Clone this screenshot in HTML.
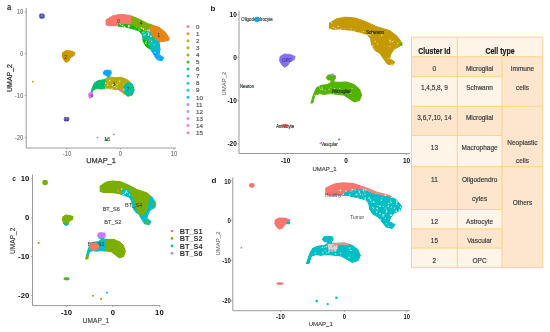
<!DOCTYPE html>
<html><head><meta charset="utf-8"><style>
html,body{margin:0;padding:0;background:#fff;}
body{width:550px;height:332px;overflow:hidden;font-family:"Liberation Sans",sans-serif;}
svg{display:block;filter:blur(0.3px);}
</style></head><body>
<svg width="550" height="332" viewBox="0 0 550 332">
<rect width="550" height="332" fill="#fff"/>
<defs>
<mask id="archa" maskUnits="userSpaceOnUse" x="0" y="0" width="550" height="332"><polygon points="105.9,19.8 112.5,15.7 119.9,14.2 129.2,15.1 138.5,18.8 147.8,23.6 159.1,27.2 165.5,32.4 169.3,38.2 168.3,42.3 162.8,45.4 159.9,50.5 159.1,54.7 163.7,57.7 161.8,60.8 157.2,59.7 154.4,55.7 150.6,49.5 146.0,46.4 143.1,41.2 142.3,35.1 139.4,31.0 132.9,29.0 125.5,26.9 116.1,25.9 108.7,25.9 105.9,24.9" fill="#fff" stroke="#fff" stroke-width="1.00" stroke-linejoin="round"/></mask>
<mask id="microa" maskUnits="userSpaceOnUse" x="0" y="0" width="550" height="332"><polygon points="103.1,72.9 104.5,70.6 107.7,70.1 110.9,70.8 111.3,73.3 109.8,75.2 109.8,77.2 114.5,77.5 121.1,77.1 127.8,79.7 132.4,84.1 134.4,89.9 132.4,95.1 127.8,96.6 123.8,93.7 118.5,89.9 113.2,89.3 106.4,88.5 101.1,89.3 97.2,88.5 93.1,89.9 91.7,94.3 91.3,97.4 89.5,97.8 90.0,95.9 92.0,88.5 94.5,82.7 98.5,80.5 103.8,79.7 107.1,77.7 107.4,75.4 104.5,75.1" fill="#fff" stroke="#fff" stroke-width="1.00" stroke-linejoin="round"/></mask>
<mask id="archb" maskUnits="userSpaceOnUse" x="0" y="0" width="550" height="332"><polygon points="329.5,22.9 336.9,18.7 345.3,17.2 355.8,18.1 366.4,21.9 376.9,26.8 389.6,30.5 396.9,35.9 401.2,41.9 400.0,46.1 393.8,49.3 390.6,54.5 389.6,58.8 394.8,61.9 392.7,65.1 387.5,64.0 384.3,59.8 380.0,53.5 374.8,50.3 371.6,45.0 370.6,38.7 367.4,34.5 360.0,32.4 351.6,30.3 341.0,29.2 332.6,29.2 329.5,28.2" fill="#fff" stroke="#fff" stroke-width="1.00" stroke-linejoin="round"/></mask>
<mask id="microb" maskUnits="userSpaceOnUse" x="0" y="0" width="550" height="332"><polygon points="326.3,77.6 327.9,75.2 331.5,74.7 335.1,75.4 335.6,78.0 333.9,79.9 333.9,82.0 339.2,82.3 346.7,81.9 354.2,84.6 359.5,89.1 361.7,95.1 359.5,100.4 354.2,101.9 349.7,98.9 343.7,95.1 337.7,94.4 330.1,93.6 324.1,94.4 319.6,93.6 315.0,95.1 313.5,99.6 313.0,102.7 310.9,103.2 311.5,101.2 313.8,93.6 316.6,87.6 321.1,85.3 327.1,84.6 330.9,82.5 331.2,80.2 327.9,79.8" fill="#fff" stroke="#fff" stroke-width="1.00" stroke-linejoin="round"/></mask>
<mask id="archc" maskUnits="userSpaceOnUse" x="0" y="0" width="550" height="332"><polygon points="100.3,186.3 106.0,182.5 112.4,181.2 120.5,182.0 128.7,185.4 136.8,189.9 146.5,193.2 152.1,198.0 155.4,203.4 154.5,207.2 149.7,210.1 147.3,214.8 146.5,218.7 150.5,221.5 148.9,224.4 144.9,223.4 142.4,219.6 139.1,213.9 135.1,211.0 132.7,206.2 131.9,200.6 129.5,196.8 123.7,194.9 117.3,193.0 109.1,192.0 102.7,192.0 100.3,191.1" fill="#fff" stroke="#fff" stroke-width="1.80" stroke-linejoin="round"/></mask>
<mask id="microc" maskUnits="userSpaceOnUse" x="0" y="0" width="550" height="332"><polygon points="97.9,235.6 99.0,233.5 101.8,233.0 104.6,233.7 105.0,236.0 103.7,237.8 103.7,239.6 107.8,239.9 113.6,239.5 119.3,242.0 123.4,246.0 125.1,251.4 123.4,256.3 119.3,257.6 115.8,254.9 111.2,251.4 106.6,250.8 100.8,250.1 96.2,250.8 92.7,250.1 89.2,251.4 88.0,255.5 87.7,258.3 86.0,258.7 86.5,257.0 88.3,250.1 90.4,244.7 93.8,242.6 98.5,242.0 101.4,240.1 101.6,238.0 99.0,237.7" fill="#fff" stroke="#fff" stroke-width="1.80" stroke-linejoin="round"/></mask>
<mask id="archd" maskUnits="userSpaceOnUse" x="0" y="0" width="550" height="332"><polygon points="326.3,188.6 334.1,184.7 342.7,183.3 353.7,184.2 364.7,187.7 375.7,192.3 388.9,195.7 396.5,200.7 401.0,206.2 399.8,210.1 393.3,213.1 389.9,217.9 388.9,221.9 394.3,224.8 392.1,227.8 386.7,226.7 383.4,222.9 378.9,217.0 373.5,214.1 370.1,209.1 369.1,203.3 365.8,199.4 358.1,197.4 349.4,195.5 338.3,194.5 329.6,194.5 326.3,193.5" fill="#fff" stroke="#fff" stroke-width="2.20" stroke-linejoin="round"/></mask>
<mask id="microd" maskUnits="userSpaceOnUse" x="0" y="0" width="550" height="332"><polygon points="323.0,239.4 324.6,237.2 328.4,236.6 332.2,237.4 332.7,239.8 330.9,241.5 330.9,243.4 336.4,243.7 344.3,243.3 352.1,245.9 357.5,250.0 359.9,255.6 357.5,260.5 352.1,261.9 347.3,259.1 341.1,255.6 334.9,255.0 326.9,254.2 320.7,255.0 316.0,254.2 311.2,255.6 309.6,259.8 309.2,262.7 307.0,263.1 307.6,261.3 310.0,254.2 312.9,248.7 317.5,246.5 323.8,245.9 327.8,243.9 328.1,241.7 324.6,241.4" fill="#fff" stroke="#fff" stroke-width="2.20" stroke-linejoin="round"/></mask>
</defs>
<text x="0.0" y="0.0" font-size="7.6" font-weight="bold" fill="#222" text-anchor="middle" font-family="Liberation Sans, sans-serif" transform="translate(9.2,9.6) scale(1,1.15)">a</text>
<line x1="26.2" y1="8.0" x2="26.2" y2="148.0" stroke="#9a9a9a" stroke-width="1"/>
<line x1="26.2" y1="148.0" x2="176.0" y2="148.0" stroke="#9a9a9a" stroke-width="1"/>
<line x1="24.6" y1="11.8" x2="26.2" y2="11.8" stroke="#9a9a9a" stroke-width="0.8"/>
<text font-size="5.9" font-weight="normal" fill="#555" text-anchor="end" font-family="Liberation Sans, sans-serif" transform="translate(23.20,14.25) scale(1,1.16)">10</text>
<line x1="24.6" y1="53.7" x2="26.2" y2="53.7" stroke="#9a9a9a" stroke-width="0.8"/>
<text font-size="5.9" font-weight="normal" fill="#555" text-anchor="end" font-family="Liberation Sans, sans-serif" transform="translate(23.20,56.15) scale(1,1.16)">0</text>
<line x1="24.6" y1="95.4" x2="26.2" y2="95.4" stroke="#9a9a9a" stroke-width="0.8"/>
<text font-size="5.9" font-weight="normal" fill="#555" text-anchor="end" font-family="Liberation Sans, sans-serif" transform="translate(23.20,97.85) scale(1,1.16)">-10</text>
<line x1="24.6" y1="137.3" x2="26.2" y2="137.3" stroke="#9a9a9a" stroke-width="0.8"/>
<text font-size="5.9" font-weight="normal" fill="#555" text-anchor="end" font-family="Liberation Sans, sans-serif" transform="translate(23.20,139.75) scale(1,1.16)">-20</text>
<line x1="67.0" y1="148.0" x2="67.0" y2="149.6" stroke="#9a9a9a" stroke-width="0.8"/>
<text font-size="5.9" font-weight="normal" fill="#555" text-anchor="middle" font-family="Liberation Sans, sans-serif" transform="translate(67.00,156.45) scale(1,1.16)">-10</text>
<line x1="120.5" y1="148.0" x2="120.5" y2="149.6" stroke="#9a9a9a" stroke-width="0.8"/>
<text font-size="5.9" font-weight="normal" fill="#555" text-anchor="middle" font-family="Liberation Sans, sans-serif" transform="translate(120.50,156.45) scale(1,1.16)">0</text>
<line x1="174.0" y1="148.0" x2="174.0" y2="149.6" stroke="#9a9a9a" stroke-width="0.8"/>
<text font-size="5.9" font-weight="normal" fill="#555" text-anchor="middle" font-family="Liberation Sans, sans-serif" transform="translate(174.00,156.45) scale(1,1.16)">10</text>
<text x="101.0" y="163.2" font-size="7.4" font-weight="normal" fill="#3a3a3a" text-anchor="middle" font-family="Liberation Sans, sans-serif" stroke="#3a3a3a" stroke-width="0.25">UMAP_1</text>
<text x="0.0" y="0.0" font-size="7" font-weight="normal" fill="#3a3a3a" text-anchor="middle" font-family="Liberation Sans, sans-serif" stroke="#3a3a3a" stroke-width="0.25" transform="translate(12.2,78) rotate(-90)">UMAP_2</text>
<g mask="url(#archa)">
<polygon points="105.9,19.8 112.5,15.7 119.9,14.2 129.2,15.1 138.5,18.8 147.8,23.6 159.1,27.2 165.5,32.4 169.3,38.2 168.3,42.3 162.8,45.4 159.9,50.5 159.1,54.7 163.7,57.7 161.8,60.8 157.2,59.7 154.4,55.7 150.6,49.5 146.0,46.4 143.1,41.2 142.3,35.1 139.4,31.0 132.9,29.0 125.5,26.9 116.1,25.9 108.7,25.9 105.9,24.9" fill="#F8766D" stroke="#F8766D" stroke-width="1.00" stroke-linejoin="round"/>
<polygon points="118,23.8 131,24.5 137,26.8 145,30.8 141.5,35 118,35" fill="#0CB702"/>
<polygon points="130.4,8 165,8 165,24 150,26 150.9,33.4 144.9,30.9 136,26.9 131.5,25" fill="#7CAE00"/>
<polygon points="149.9,26.9 155.8,25.5 178,34 178,46 165.7,41.3 159.8,41.8 155.3,38.8 152.2,36 150.9,33.4 149.9,29.9" fill="#E68613"/>
<polygon points="143.9,30.9 149.9,29.9 150.9,33.4 152.2,36 155.3,38.8 154.5,40 148,40.5 142.5,39.5 141,34" fill="#00C19A"/>
<polygon points="138,38 148,40.5 152.2,42 151,52 138,52" fill="#0CB702"/>
<polygon points="148,41.5 155.3,39.5 159.8,41.8 161,51.2 151,51.2" fill="#00BFC4"/>
<polygon points="150,50.5 162,50.5 170,66 150,66" fill="#00A9FF"/>
<g mask="url(#archa)" fill="#ffffff" fill-opacity="0.9"><circle cx="128.4" cy="25.6" r="0.63"/><circle cx="148.3" cy="32.8" r="0.54"/><circle cx="122.6" cy="25.0" r="0.51"/><circle cx="120.0" cy="24.0" r="0.47"/><circle cx="139.8" cy="30.3" r="0.51"/><circle cx="136.7" cy="30.7" r="0.50"/><circle cx="143.4" cy="34.9" r="0.49"/><circle cx="136.4" cy="31.9" r="0.71"/><circle cx="141.3" cy="27.9" r="0.74"/><circle cx="137.0" cy="32.9" r="0.56"/><circle cx="123.4" cy="25.0" r="0.42"/><circle cx="125.9" cy="29.6" r="0.70"/><circle cx="126.9" cy="30.1" r="0.53"/><circle cx="122.8" cy="26.0" r="0.48"/><circle cx="136.9" cy="27.5" r="0.40"/><circle cx="131.4" cy="29.3" r="0.60"/><circle cx="148.5" cy="34.7" r="0.58"/><circle cx="143.5" cy="29.7" r="0.54"/><circle cx="120.0" cy="24.1" r="0.47"/><circle cx="123.2" cy="28.8" r="0.42"/><circle cx="118.0" cy="25.6" r="0.44"/><circle cx="146.0" cy="33.4" r="0.45"/><circle cx="126.1" cy="28.9" r="0.53"/><circle cx="149.8" cy="30.9" r="0.57"/><circle cx="120.7" cy="24.7" r="0.52"/><circle cx="148.4" cy="32.0" r="0.45"/><circle cx="145.6" cy="34.8" r="0.49"/><circle cx="129.7" cy="25.8" r="0.67"/><circle cx="128.5" cy="26.8" r="0.68"/><circle cx="134.6" cy="29.0" r="0.41"/><circle cx="118.9" cy="27.8" r="0.49"/><circle cx="129.7" cy="26.7" r="0.48"/><circle cx="124.3" cy="26.5" r="0.62"/><circle cx="143.3" cy="28.7" r="0.68"/><circle cx="149.1" cy="29.7" r="0.54"/><circle cx="148.3" cy="35.3" r="0.46"/><circle cx="122.1" cy="25.6" r="0.72"/><circle cx="139.0" cy="29.0" r="0.59"/><circle cx="149.1" cy="34.0" r="0.58"/><circle cx="147.9" cy="30.4" r="0.71"/></g>
<g mask="url(#archa)" fill="#ffffff" fill-opacity="0.8"><circle cx="145.0" cy="60.8" r="0.44"/><circle cx="145.4" cy="62.0" r="0.46"/><circle cx="154.1" cy="44.7" r="0.54"/><circle cx="150.9" cy="36.2" r="0.65"/><circle cx="142.0" cy="37.5" r="0.41"/><circle cx="145.9" cy="43.0" r="0.67"/><circle cx="148.3" cy="33.6" r="0.48"/><circle cx="154.3" cy="58.8" r="0.57"/><circle cx="143.1" cy="32.1" r="0.68"/><circle cx="150.8" cy="36.2" r="0.68"/><circle cx="152.7" cy="53.3" r="0.66"/><circle cx="146.3" cy="41.4" r="0.66"/><circle cx="143.0" cy="54.5" r="0.43"/><circle cx="155.2" cy="52.5" r="0.68"/><circle cx="144.3" cy="34.8" r="0.56"/><circle cx="145.4" cy="30.4" r="0.50"/><circle cx="145.9" cy="43.5" r="0.51"/><circle cx="158.4" cy="58.5" r="0.45"/><circle cx="148.7" cy="35.3" r="0.60"/><circle cx="140.3" cy="54.5" r="0.50"/><circle cx="143.7" cy="43.9" r="0.47"/><circle cx="149.0" cy="44.3" r="0.53"/><circle cx="142.1" cy="32.7" r="0.43"/><circle cx="151.5" cy="41.5" r="0.64"/><circle cx="151.1" cy="52.7" r="0.69"/></g>
</g>
<polygon points="159.6,42.4 166,41.6 171,40.2 171,50 160.8,50" fill="#ffffff"/>
<g mask="url(#microa)">
<polygon points="103.1,72.9 104.5,70.6 107.7,70.1 110.9,70.8 111.3,73.3 109.8,75.2 109.8,77.2 114.5,77.5 121.1,77.1 127.8,79.7 132.4,84.1 134.4,89.9 132.4,95.1 127.8,96.6 123.8,93.7 118.5,89.9 113.2,89.3 106.4,88.5 101.1,89.3 97.2,88.5 93.1,89.9 91.7,94.3 91.3,97.4 89.5,97.8 90.0,95.9 92.0,88.5 94.5,82.7 98.5,80.5 103.8,79.7 107.1,77.7 107.4,75.4 104.5,75.1" fill="#B5AA08" stroke="#B5AA08" stroke-width="1.00" stroke-linejoin="round"/>
<polygon points="80,76.5 105.3,79 105.3,89 96,89 80,89" fill="#00BE67"/>
<polygon points="85,89 96,89 92,100 85,100" fill="#00BE67"/>
<ellipse cx="128.9" cy="89.2" rx="5.6" ry="7" fill="#00C19A"/>
<g mask="url(#microa)" fill="#ffffff" fill-opacity="0.85"><circle cx="113.0" cy="85.6" r="0.77"/><circle cx="113.3" cy="85.1" r="0.63"/><circle cx="107.7" cy="85.1" r="0.65"/><circle cx="119.9" cy="80.9" r="0.52"/><circle cx="105.8" cy="88.1" r="0.68"/><circle cx="104.8" cy="89.8" r="0.79"/><circle cx="117.1" cy="86.2" r="0.46"/><circle cx="104.3" cy="85.3" r="0.42"/><circle cx="107.8" cy="82.4" r="0.41"/><circle cx="113.3" cy="84.4" r="0.74"/><circle cx="114.4" cy="86.4" r="0.60"/><circle cx="117.2" cy="84.6" r="0.51"/><circle cx="124.0" cy="90.0" r="0.74"/><circle cx="118.2" cy="83.2" r="0.49"/><circle cx="109.8" cy="80.7" r="0.71"/><circle cx="112.0" cy="88.5" r="0.55"/><circle cx="123.2" cy="88.5" r="0.40"/><circle cx="108.2" cy="89.1" r="0.59"/><circle cx="123.6" cy="84.0" r="0.43"/><circle cx="116.6" cy="87.8" r="0.51"/><circle cx="105.7" cy="83.3" r="0.79"/><circle cx="119.2" cy="81.2" r="0.50"/></g>
<rect x="80" y="91.8" width="13.6" height="10" fill="#ED68ED"/>
<rect x="98" y="60" width="16" height="17.2" fill="#00A9FF"/>
</g>
<circle cx="121.0" cy="90.0" r="1.30" fill="#ED68ED"/>
<ellipse cx="90.6" cy="94.9" rx="2.4" ry="2.6" fill="#ED68ED"/>
<ellipse cx="92" cy="95.6" rx="1.3" ry="1.6" fill="#5A6FE0"/>
<polygon points="62.2,52.4 65.9,49.9 71.3,50.4 75.6,52.4 74.5,55.8 70.7,57.9 69.1,61.2 65.9,62.9 63.3,60.0 61.7,56.2" fill="#CD9600"/>
<ellipse cx="41.9" cy="16.1" rx="3.1" ry="2.8" fill="#7478E8" />
<ellipse cx="66.5" cy="119.3" rx="2.8" ry="2.3" fill="#7D66E4" />
<circle cx="32.8" cy="81.7" r="0.90" fill="#CD9600"/>
<circle cx="97.5" cy="137.6" r="0.90" fill="#FF68A1"/>
<circle cx="113.8" cy="134.4" r="0.90" fill="#FF68A1"/>
<ellipse cx="106.7" cy="139.8" rx="1.3" ry="1.3" fill="#0CB702" />
<text x="118.6" y="23.0" font-size="4.6" font-weight="normal" fill="#2a2a2a" text-anchor="middle" font-family="Liberation Sans, sans-serif" >0</text>
<text x="141.0" y="25.0" font-size="4.6" font-weight="normal" fill="#2a2a2a" text-anchor="middle" font-family="Liberation Sans, sans-serif" >4</text>
<text x="158.7" y="37.0" font-size="4.6" font-weight="normal" fill="#2a2a2a" text-anchor="middle" font-family="Liberation Sans, sans-serif" >1</text>
<text x="65.5" y="59.3" font-size="4.6" font-weight="normal" fill="#2a2a2a" text-anchor="middle" font-family="Liberation Sans, sans-serif" >2</text>
<text x="42.0" y="17.8" font-size="4.8" font-weight="normal" fill="#2a2a2a" text-anchor="middle" font-family="Liberation Sans, sans-serif" >11</text>
<text x="66.5" y="121.4" font-size="4.8" font-weight="normal" fill="#2a2a2a" text-anchor="middle" font-family="Liberation Sans, sans-serif" >12</text>
<text x="107.2" y="140.6" font-size="5.6" font-weight="normal" fill="#2a2a2a" text-anchor="middle" font-family="Liberation Sans, sans-serif" >15</text>
<text x="128.0" y="90.5" font-size="4.6" font-weight="normal" fill="#2a2a2a" text-anchor="middle" font-family="Liberation Sans, sans-serif" >7</text>
<text x="114.0" y="85.5" font-size="4.6" font-weight="normal" fill="#2a2a2a" text-anchor="middle" font-family="Liberation Sans, sans-serif" >3</text>
<circle cx="188" cy="26.6" r="1.5" fill="#F8766D" fill-opacity="0.85"/>
<text x="196.0" y="28.8" font-size="6.2" font-weight="normal" fill="#595959" text-anchor="start" font-family="Liberation Sans, sans-serif" stroke="#595959" stroke-width="0.2">0</text>
<circle cx="188" cy="33.7" r="1.5" fill="#E68613" fill-opacity="0.85"/>
<text x="196.0" y="35.9" font-size="6.2" font-weight="normal" fill="#595959" text-anchor="start" font-family="Liberation Sans, sans-serif" stroke="#595959" stroke-width="0.2">1</text>
<circle cx="188" cy="40.7" r="1.5" fill="#CD9600" fill-opacity="0.85"/>
<text x="196.0" y="42.9" font-size="6.2" font-weight="normal" fill="#595959" text-anchor="start" font-family="Liberation Sans, sans-serif" stroke="#595959" stroke-width="0.2">2</text>
<circle cx="188" cy="47.8" r="1.5" fill="#ABA300" fill-opacity="0.85"/>
<text x="196.0" y="50.0" font-size="6.2" font-weight="normal" fill="#595959" text-anchor="start" font-family="Liberation Sans, sans-serif" stroke="#595959" stroke-width="0.2">3</text>
<circle cx="188" cy="54.9" r="1.5" fill="#7CAE00" fill-opacity="0.85"/>
<text x="196.0" y="57.1" font-size="6.2" font-weight="normal" fill="#595959" text-anchor="start" font-family="Liberation Sans, sans-serif" stroke="#595959" stroke-width="0.2">4</text>
<circle cx="188" cy="62.0" r="1.5" fill="#0CB702" fill-opacity="0.85"/>
<text x="196.0" y="64.2" font-size="6.2" font-weight="normal" fill="#595959" text-anchor="start" font-family="Liberation Sans, sans-serif" stroke="#595959" stroke-width="0.2">5</text>
<circle cx="188" cy="69.0" r="1.5" fill="#00BE67" fill-opacity="0.85"/>
<text x="196.0" y="71.2" font-size="6.2" font-weight="normal" fill="#595959" text-anchor="start" font-family="Liberation Sans, sans-serif" stroke="#595959" stroke-width="0.2">6</text>
<circle cx="188" cy="76.1" r="1.5" fill="#00C19A" fill-opacity="0.85"/>
<text x="196.0" y="78.3" font-size="6.2" font-weight="normal" fill="#595959" text-anchor="start" font-family="Liberation Sans, sans-serif" stroke="#595959" stroke-width="0.2">7</text>
<circle cx="188" cy="83.2" r="1.5" fill="#00BFC4" fill-opacity="0.85"/>
<text x="196.0" y="85.4" font-size="6.2" font-weight="normal" fill="#595959" text-anchor="start" font-family="Liberation Sans, sans-serif" stroke="#595959" stroke-width="0.2">8</text>
<circle cx="188" cy="90.2" r="1.5" fill="#00B8E7" fill-opacity="0.85"/>
<text x="196.0" y="92.4" font-size="6.2" font-weight="normal" fill="#595959" text-anchor="start" font-family="Liberation Sans, sans-serif" stroke="#595959" stroke-width="0.2">9</text>
<circle cx="188" cy="97.3" r="1.5" fill="#00A9FF" fill-opacity="0.85"/>
<text x="196.0" y="99.5" font-size="6.2" font-weight="normal" fill="#595959" text-anchor="start" font-family="Liberation Sans, sans-serif" stroke="#595959" stroke-width="0.2">10</text>
<circle cx="188" cy="104.4" r="1.5" fill="#8494FF" fill-opacity="0.85"/>
<text x="196.0" y="106.6" font-size="6.2" font-weight="normal" fill="#595959" text-anchor="start" font-family="Liberation Sans, sans-serif" stroke="#595959" stroke-width="0.2">11</text>
<circle cx="188" cy="111.4" r="1.5" fill="#C77CFF" fill-opacity="0.85"/>
<text x="196.0" y="113.6" font-size="6.2" font-weight="normal" fill="#595959" text-anchor="start" font-family="Liberation Sans, sans-serif" stroke="#595959" stroke-width="0.2">12</text>
<circle cx="188" cy="118.5" r="1.5" fill="#ED68ED" fill-opacity="0.85"/>
<text x="196.0" y="120.7" font-size="6.2" font-weight="normal" fill="#595959" text-anchor="start" font-family="Liberation Sans, sans-serif" stroke="#595959" stroke-width="0.2">13</text>
<circle cx="188" cy="125.6" r="1.5" fill="#FF61CC" fill-opacity="0.85"/>
<text x="196.0" y="127.8" font-size="6.2" font-weight="normal" fill="#595959" text-anchor="start" font-family="Liberation Sans, sans-serif" stroke="#595959" stroke-width="0.2">14</text>
<circle cx="188" cy="132.7" r="1.5" fill="#FF68A1" fill-opacity="0.85"/>
<text x="196.0" y="134.8" font-size="6.2" font-weight="normal" fill="#595959" text-anchor="start" font-family="Liberation Sans, sans-serif" stroke="#595959" stroke-width="0.2">15</text>
<text x="213.0" y="11.3" font-size="8" font-weight="bold" fill="#222" text-anchor="middle" font-family="Liberation Sans, sans-serif" >b</text>
<line x1="239.0" y1="10.5" x2="239.0" y2="153.5" stroke="#9a9a9a" stroke-width="1"/>
<line x1="239.0" y1="153.5" x2="409.8" y2="153.5" stroke="#9a9a9a" stroke-width="1"/>
<line x1="237.4" y1="14.6" x2="239.0" y2="14.6" stroke="#9a9a9a" stroke-width="0.8"/>
<text font-size="6.5" font-weight="bold" fill="#111" text-anchor="end" font-family="Liberation Sans, sans-serif" transform="translate(236.80,17.28) scale(1,1.15)">10</text>
<line x1="237.4" y1="57.6" x2="239.0" y2="57.6" stroke="#9a9a9a" stroke-width="0.8"/>
<text font-size="6.5" font-weight="bold" fill="#111" text-anchor="end" font-family="Liberation Sans, sans-serif" transform="translate(236.80,60.28) scale(1,1.15)">0</text>
<line x1="237.4" y1="100.6" x2="239.0" y2="100.6" stroke="#9a9a9a" stroke-width="0.8"/>
<text font-size="6.5" font-weight="bold" fill="#111" text-anchor="end" font-family="Liberation Sans, sans-serif" transform="translate(236.80,103.28) scale(1,1.15)">-10</text>
<line x1="237.4" y1="143.8" x2="239.0" y2="143.8" stroke="#9a9a9a" stroke-width="0.8"/>
<text font-size="6.5" font-weight="bold" fill="#111" text-anchor="end" font-family="Liberation Sans, sans-serif" transform="translate(236.80,146.48) scale(1,1.15)">-20</text>
<line x1="285.6" y1="153.5" x2="285.6" y2="155.1" stroke="#9a9a9a" stroke-width="0.8"/>
<text font-size="6.5" font-weight="bold" fill="#111" text-anchor="middle" font-family="Liberation Sans, sans-serif" transform="translate(285.60,162.88) scale(1,1.15)">-10</text>
<line x1="346.0" y1="153.5" x2="346.0" y2="155.1" stroke="#9a9a9a" stroke-width="0.8"/>
<text font-size="6.5" font-weight="bold" fill="#111" text-anchor="middle" font-family="Liberation Sans, sans-serif" transform="translate(346.00,162.88) scale(1,1.15)">0</text>
<line x1="406.5" y1="153.5" x2="406.5" y2="155.1" stroke="#9a9a9a" stroke-width="0.8"/>
<text font-size="6.5" font-weight="bold" fill="#111" text-anchor="middle" font-family="Liberation Sans, sans-serif" transform="translate(406.50,162.88) scale(1,1.15)">10</text>
<text x="324.5" y="170.5" font-size="6" font-weight="normal" fill="#444" text-anchor="middle" font-family="Liberation Sans, sans-serif" stroke="#444" stroke-width="0.15">UMAP_1</text>
<text x="0.0" y="0.0" font-size="6" font-weight="normal" fill="#555" text-anchor="middle" font-family="Liberation Sans, sans-serif" transform="translate(225.8,83.6) rotate(-90)">UMAP_2</text>
<polygon points="329.5,22.9 336.9,18.7 345.3,17.2 355.8,18.1 366.4,21.9 376.9,26.8 389.6,30.5 396.9,35.9 401.2,41.9 400.0,46.1 393.8,49.3 390.6,54.5 389.6,58.8 394.8,61.9 392.7,65.1 387.5,64.0 384.3,59.8 380.0,53.5 374.8,50.3 371.6,45.0 370.6,38.7 367.4,34.5 360.0,32.4 351.6,30.3 341.0,29.2 332.6,29.2 329.5,28.2" fill="#C49A00" stroke="#C49A00" stroke-width="1.00" stroke-linejoin="round"/>
<g mask="url(#archb)" fill="#F5E6B0" fill-opacity="0.9"><circle cx="347.1" cy="45.0" r="0.60"/><circle cx="373.5" cy="48.8" r="0.48"/><circle cx="330.9" cy="58.5" r="0.55"/><circle cx="346.9" cy="65.8" r="0.64"/><circle cx="390.2" cy="41.9" r="0.71"/><circle cx="340.8" cy="49.2" r="0.80"/><circle cx="367.7" cy="54.1" r="0.72"/><circle cx="334.6" cy="54.9" r="0.69"/><circle cx="392.3" cy="41.7" r="0.74"/><circle cx="393.3" cy="52.8" r="0.82"/><circle cx="358.4" cy="56.8" r="0.63"/><circle cx="397.4" cy="60.4" r="0.49"/><circle cx="339.8" cy="30.0" r="0.84"/><circle cx="361.4" cy="48.8" r="0.57"/><circle cx="366.5" cy="37.7" r="0.59"/><circle cx="372.1" cy="46.9" r="0.81"/><circle cx="379.1" cy="62.7" r="0.79"/><circle cx="401.4" cy="50.9" r="0.52"/><circle cx="392.0" cy="64.4" r="0.81"/><circle cx="371.0" cy="52.8" r="0.53"/><circle cx="389.9" cy="46.4" r="0.56"/><circle cx="334.6" cy="59.3" r="0.85"/><circle cx="336.4" cy="56.8" r="0.61"/><circle cx="340.9" cy="33.5" r="0.76"/><circle cx="381.7" cy="35.2" r="0.80"/><circle cx="400.6" cy="43.2" r="0.85"/><circle cx="344.2" cy="38.8" r="0.69"/><circle cx="399.0" cy="61.2" r="0.60"/><circle cx="363.1" cy="43.9" r="0.71"/><circle cx="372.9" cy="45.7" r="0.70"/><circle cx="397.7" cy="43.3" r="0.62"/><circle cx="351.7" cy="65.0" r="0.66"/><circle cx="359.9" cy="46.7" r="0.46"/><circle cx="374.3" cy="49.1" r="0.47"/><circle cx="375.2" cy="41.4" r="0.72"/><circle cx="355.4" cy="52.5" r="0.75"/><circle cx="331.6" cy="22.8" r="0.72"/><circle cx="362.9" cy="47.3" r="0.58"/><circle cx="356.2" cy="34.4" r="0.60"/><circle cx="372.9" cy="33.8" r="0.60"/><circle cx="371.0" cy="53.8" r="0.57"/><circle cx="346.0" cy="57.0" r="0.55"/><circle cx="343.5" cy="40.0" r="0.73"/><circle cx="337.3" cy="34.8" r="0.58"/><circle cx="390.0" cy="40.2" r="0.79"/><circle cx="342.2" cy="35.5" r="0.71"/><circle cx="393.7" cy="40.8" r="0.54"/><circle cx="338.7" cy="44.4" r="0.53"/><circle cx="388.1" cy="58.6" r="0.52"/><circle cx="350.1" cy="57.1" r="0.71"/><circle cx="339.3" cy="33.4" r="0.77"/><circle cx="349.5" cy="35.9" r="0.62"/><circle cx="360.2" cy="38.8" r="0.82"/><circle cx="397.9" cy="60.5" r="0.84"/><circle cx="361.3" cy="63.7" r="0.82"/><circle cx="346.0" cy="54.3" r="0.78"/><circle cx="377.7" cy="43.9" r="0.57"/><circle cx="354.6" cy="30.5" r="0.48"/><circle cx="372.4" cy="33.2" r="0.77"/><circle cx="333.2" cy="61.6" r="0.73"/><circle cx="396.5" cy="61.2" r="0.81"/><circle cx="351.6" cy="50.5" r="0.66"/><circle cx="359.8" cy="63.2" r="0.69"/><circle cx="354.6" cy="31.6" r="0.79"/><circle cx="364.4" cy="56.0" r="0.59"/><circle cx="344.2" cy="44.6" r="0.78"/><circle cx="342.3" cy="56.4" r="0.82"/><circle cx="388.0" cy="57.9" r="0.45"/><circle cx="375.3" cy="59.7" r="0.47"/><circle cx="349.5" cy="32.4" r="0.66"/></g>
<g mask="url(#archb)" fill="#F5E6B0" fill-opacity="0.9"><circle cx="359.4" cy="33.0" r="0.66"/><circle cx="361.6" cy="33.2" r="0.62"/><circle cx="336.9" cy="32.2" r="0.75"/><circle cx="348.4" cy="31.2" r="0.57"/><circle cx="368.7" cy="33.7" r="0.77"/><circle cx="354.3" cy="32.2" r="0.77"/><circle cx="350.7" cy="28.7" r="0.50"/><circle cx="351.7" cy="29.0" r="0.60"/><circle cx="368.0" cy="34.1" r="0.81"/><circle cx="348.7" cy="32.3" r="0.63"/><circle cx="344.7" cy="31.5" r="0.47"/><circle cx="341.2" cy="31.6" r="0.75"/><circle cx="352.7" cy="31.2" r="0.46"/><circle cx="344.1" cy="28.5" r="0.49"/><circle cx="357.2" cy="34.3" r="0.72"/><circle cx="335.7" cy="31.1" r="0.70"/><circle cx="333.3" cy="27.4" r="0.71"/><circle cx="370.1" cy="35.0" r="0.68"/><circle cx="356.0" cy="35.4" r="0.53"/><circle cx="363.2" cy="31.2" r="0.53"/><circle cx="340.7" cy="29.3" r="0.75"/><circle cx="338.3" cy="26.5" r="0.66"/><circle cx="343.2" cy="34.4" r="0.74"/><circle cx="350.9" cy="35.0" r="0.66"/><circle cx="350.4" cy="33.8" r="0.84"/><circle cx="336.7" cy="31.3" r="0.66"/><circle cx="347.3" cy="30.3" r="0.60"/><circle cx="334.8" cy="31.6" r="0.70"/><circle cx="342.6" cy="32.2" r="0.78"/><circle cx="344.3" cy="30.3" r="0.63"/><circle cx="335.8" cy="28.3" r="0.67"/><circle cx="363.6" cy="31.5" r="0.55"/><circle cx="346.5" cy="35.0" r="0.54"/><circle cx="355.7" cy="33.1" r="0.50"/><circle cx="337.9" cy="29.3" r="0.65"/><circle cx="342.5" cy="33.0" r="0.62"/><circle cx="338.3" cy="29.5" r="0.51"/><circle cx="340.3" cy="30.5" r="0.48"/><circle cx="335.5" cy="31.4" r="0.83"/><circle cx="361.8" cy="33.8" r="0.83"/></g>
<ellipse cx="401.1" cy="44.0" rx="1.5" ry="1.9" fill="#53B400" />
<polygon points="326.3,77.6 327.9,75.2 331.5,74.7 335.1,75.4 335.6,78.0 333.9,79.9 333.9,82.0 339.2,82.3 346.7,81.9 354.2,84.6 359.5,89.1 361.7,95.1 359.5,100.4 354.2,101.9 349.7,98.9 343.7,95.1 337.7,94.4 330.1,93.6 324.1,94.4 319.6,93.6 315.0,95.1 313.5,99.6 313.0,102.7 310.9,103.2 311.5,101.2 313.8,93.6 316.6,87.6 321.1,85.3 327.1,84.6 330.9,82.5 331.2,80.2 327.9,79.8" fill="#53B400" stroke="#53B400" stroke-width="1.00" stroke-linejoin="round"/>
<g mask="url(#microb)" fill="#D8F0B0" fill-opacity="0.85"><circle cx="334.8" cy="88.8" r="0.70"/><circle cx="325.0" cy="90.6" r="0.52"/><circle cx="329.8" cy="95.7" r="0.44"/><circle cx="330.9" cy="87.5" r="0.52"/><circle cx="352.0" cy="88.6" r="0.61"/><circle cx="329.9" cy="93.0" r="0.56"/><circle cx="320.5" cy="89.8" r="0.54"/><circle cx="344.1" cy="91.2" r="0.47"/><circle cx="339.6" cy="88.3" r="0.58"/><circle cx="322.4" cy="89.5" r="0.68"/><circle cx="333.6" cy="93.3" r="0.66"/><circle cx="336.3" cy="92.1" r="0.54"/><circle cx="337.5" cy="93.5" r="0.43"/><circle cx="349.6" cy="89.0" r="0.45"/><circle cx="319.7" cy="88.7" r="0.42"/><circle cx="329.1" cy="89.6" r="0.63"/><circle cx="331.7" cy="95.3" r="0.63"/><circle cx="326.2" cy="94.6" r="0.64"/><circle cx="350.8" cy="93.1" r="0.74"/><circle cx="321.8" cy="88.1" r="0.74"/><circle cx="314.8" cy="95.2" r="0.72"/><circle cx="319.2" cy="86.7" r="0.72"/></g>
<ellipse cx="332.4" cy="74.8" rx="1.8" ry="1.3" fill="#A58AFF" />
<polygon points="280.1,56.5 284.3,53.9 290.3,54.4 295.2,56.5 294.0,59.9 289.7,62.1 287.9,65.5 284.3,67.3 281.3,64.2 279.4,60.4" fill="#8470F0" stroke="#8470F0" stroke-width="0.8" stroke-linejoin="round"/>
<circle cx="246.8" cy="86.6" r="0.90" fill="#00C094"/>
<ellipse cx="284.9" cy="125.3" rx="3.0" ry="1.5" fill="#F8766D" />
<circle cx="320.3" cy="143.4" r="0.80" fill="#FB61D7"/>
<circle cx="339.1" cy="139.5" r="0.90" fill="#8a5a78"/>
<circle cx="330.6" cy="147.0" r="0.80" fill="#6a9a40"/>
<text x="0.0" y="0.0" font-size="4.3" font-weight="normal" fill="#444" text-anchor="middle" font-family="Liberation Sans, sans-serif" stroke="#444" stroke-width="0.16" transform="translate(257.0,21.1) scale(1,1.25)">Oligodendrocyte</text>
<text x="0.0" y="0.0" font-size="4.3" font-weight="normal" fill="#4a3a9a" text-anchor="middle" font-family="Liberation Sans, sans-serif" stroke="#4a3a9a" stroke-width="0.16" transform="translate(287.0,62.3) scale(1,1.25)">OPC</text>
<text x="0.0" y="0.0" font-size="4.3" font-weight="normal" fill="#444" text-anchor="middle" font-family="Liberation Sans, sans-serif" stroke="#444" stroke-width="0.16" transform="translate(247.0,88.4) scale(1,1.25)">Neuron</text>
<text x="0.0" y="0.0" font-size="4.3" font-weight="normal" fill="#333" text-anchor="middle" font-family="Liberation Sans, sans-serif" stroke="#333" stroke-width="0.16" transform="translate(285.2,127.7) scale(1,1.25)">Astrocyte</text>
<text x="0.0" y="0.0" font-size="4.3" font-weight="normal" fill="#444" text-anchor="middle" font-family="Liberation Sans, sans-serif" stroke="#444" stroke-width="0.16" transform="translate(329.5,145.7) scale(1,1.25)">Vascular</text>
<text x="0.0" y="0.0" font-size="4.3" font-weight="normal" fill="#2a2a10" text-anchor="middle" font-family="Liberation Sans, sans-serif" stroke="#2a2a10" stroke-width="0.16" transform="translate(375.0,33.9) scale(1,1.25)">Schwann</text>
<text x="0.0" y="0.0" font-size="4.3" font-weight="normal" fill="#1a2a10" text-anchor="middle" font-family="Liberation Sans, sans-serif" stroke="#1a2a10" stroke-width="0.16" transform="translate(341.4,92.5) scale(1,1.25)">Microglial</text>
<ellipse cx="257.2" cy="19.3" rx="3" ry="2.6" fill="#16A6DC"/>
<ellipse cx="285.6" cy="125.9" rx="3.2" ry="1.6" fill="#E8403A" fill-opacity="0.65"/>
<text x="14.2" y="180.8" font-size="6.6" font-weight="bold" fill="#222" text-anchor="middle" font-family="Liberation Sans, sans-serif" >c</text>
<line x1="32.5" y1="174.5" x2="32.5" y2="305.6" stroke="#9a9a9a" stroke-width="1"/>
<line x1="32.5" y1="305.6" x2="160.5" y2="305.6" stroke="#9a9a9a" stroke-width="1"/>
<line x1="30.9" y1="178.6" x2="32.5" y2="178.6" stroke="#9a9a9a" stroke-width="0.8"/>
<text font-size="7.7" font-weight="bold" fill="#111" text-anchor="end" font-family="Liberation Sans, sans-serif" transform="translate(29.20,181.22) scale(1,0.95)">10</text>
<line x1="30.9" y1="217.8" x2="32.5" y2="217.8" stroke="#9a9a9a" stroke-width="0.8"/>
<text font-size="7.7" font-weight="bold" fill="#111" text-anchor="end" font-family="Liberation Sans, sans-serif" transform="translate(29.20,220.42) scale(1,0.95)">0</text>
<line x1="30.9" y1="256.6" x2="32.5" y2="256.6" stroke="#9a9a9a" stroke-width="0.8"/>
<text font-size="7.7" font-weight="bold" fill="#111" text-anchor="end" font-family="Liberation Sans, sans-serif" transform="translate(29.20,259.22) scale(1,0.95)">-10</text>
<line x1="30.9" y1="295.4" x2="32.5" y2="295.4" stroke="#9a9a9a" stroke-width="0.8"/>
<text font-size="7.7" font-weight="bold" fill="#111" text-anchor="end" font-family="Liberation Sans, sans-serif" transform="translate(29.20,298.02) scale(1,0.95)">-20</text>
<line x1="66.5" y1="305.6" x2="66.5" y2="307.2" stroke="#9a9a9a" stroke-width="0.8"/>
<text font-size="7.7" font-weight="bold" fill="#111" text-anchor="middle" font-family="Liberation Sans, sans-serif" transform="translate(66.50,314.62) scale(1,0.95)">-10</text>
<line x1="113.0" y1="305.6" x2="113.0" y2="307.2" stroke="#9a9a9a" stroke-width="0.8"/>
<text font-size="7.7" font-weight="bold" fill="#111" text-anchor="middle" font-family="Liberation Sans, sans-serif" transform="translate(113.00,314.62) scale(1,0.95)">0</text>
<line x1="159.4" y1="305.6" x2="159.4" y2="307.2" stroke="#9a9a9a" stroke-width="0.8"/>
<text font-size="7.7" font-weight="bold" fill="#111" text-anchor="middle" font-family="Liberation Sans, sans-serif" transform="translate(159.40,314.62) scale(1,0.95)">10</text>
<text x="96.0" y="322.5" font-size="6.6" font-weight="normal" fill="#444" text-anchor="middle" font-family="Liberation Sans, sans-serif" stroke="#444" stroke-width="0.15">UMAP_1</text>
<text x="0.0" y="0.0" font-size="6.6" font-weight="normal" fill="#444" text-anchor="middle" font-family="Liberation Sans, sans-serif" stroke="#444" stroke-width="0.15" transform="translate(15.3,240.8) rotate(-90)">UMAP_2</text>
<g mask="url(#archc)">
<polygon points="100.3,186.3 106.0,182.5 112.4,181.2 120.5,182.0 128.7,185.4 136.8,189.9 146.5,193.2 152.1,198.0 155.4,203.4 154.5,207.2 149.7,210.1 147.3,214.8 146.5,218.7 150.5,221.5 148.9,224.4 144.9,223.4 142.4,219.6 139.1,213.9 135.1,211.0 132.7,206.2 131.9,200.6 129.5,196.8 123.7,194.9 117.3,193.0 109.1,192.0 102.7,192.0 100.3,191.1" fill="#7CAE00" stroke="#7CAE00" stroke-width="1.80" stroke-linejoin="round"/>
<polygon points="121,190 130,188.5 140,190 150,193.5 158,199 159,210 150,228 138,228 124,206" fill="#00BFC4"/>
<polygon points="128,189 144,189 149.5,192.5 150.5,197 148.5,203 147.5,209 144.5,214 140.5,216 137,211 135,205 133,198 130,193" fill="#7CAE00"/>
<polygon points="128,189.5 142,191 146,193 138,193 131,193" fill="#7CAE00"/>
<circle cx="154.2" cy="203.8" r="1.6" fill="#7CAE00"/>
<circle cx="146.6" cy="222.9" r="2" fill="#7CAE00"/>
<g mask="url(#archc)" fill="#ffffff" fill-opacity="0.85"><circle cx="124.7" cy="207.5" r="0.64"/><circle cx="124.2" cy="193.0" r="0.48"/><circle cx="129.6" cy="194.8" r="0.50"/><circle cx="127.8" cy="211.6" r="0.61"/><circle cx="120.3" cy="196.4" r="0.45"/><circle cx="134.5" cy="211.3" r="0.66"/><circle cx="124.6" cy="211.9" r="0.57"/><circle cx="127.7" cy="198.8" r="0.55"/><circle cx="125.6" cy="192.2" r="0.69"/><circle cx="134.4" cy="215.6" r="0.64"/><circle cx="130.0" cy="209.2" r="0.45"/><circle cx="123.2" cy="194.5" r="0.58"/><circle cx="124.6" cy="201.4" r="0.61"/><circle cx="127.1" cy="192.5" r="0.57"/><circle cx="124.2" cy="195.4" r="0.47"/><circle cx="126.6" cy="191.0" r="0.63"/><circle cx="132.9" cy="214.2" r="0.42"/><circle cx="122.6" cy="210.8" r="0.69"/><circle cx="127.4" cy="212.4" r="0.71"/><circle cx="131.1" cy="204.7" r="0.61"/><circle cx="126.5" cy="208.6" r="0.52"/><circle cx="125.3" cy="193.4" r="0.64"/><circle cx="122.0" cy="195.1" r="0.42"/><circle cx="131.6" cy="204.0" r="0.59"/><circle cx="120.7" cy="200.9" r="0.52"/><circle cx="121.7" cy="189.1" r="0.75"/></g>
</g>
<circle cx="118.2" cy="190.8" r="1.30" fill="#F8766D"/>
<g mask="url(#microc)">
<polygon points="97.9,235.6 99.0,233.5 101.8,233.0 104.6,233.7 105.0,236.0 103.7,237.8 103.7,239.6 107.8,239.9 113.6,239.5 119.3,242.0 123.4,246.0 125.1,251.4 123.4,256.3 119.3,257.6 115.8,254.9 111.2,251.4 106.6,250.8 100.8,250.1 96.2,250.8 92.7,250.1 89.2,251.4 88.0,255.5 87.7,258.3 86.0,258.7 86.5,257.0 88.3,250.1 90.4,244.7 93.8,242.6 98.5,242.0 101.4,240.1 101.6,238.0 99.0,237.7" fill="#7CAE00" stroke="#7CAE00" stroke-width="1.80" stroke-linejoin="round"/>
<polygon points="84,236 104.8,236 105.2,244 106,252.5 100,253 92,262 84,262" fill="#00BFC4"/>
<rect x="94" y="228" width="14" height="10" fill="#C77CFF"/>
<rect x="84" y="255" width="6" height="6" fill="#7CAE00"/>
</g>
<text x="96.0" y="246.2" font-size="5.6" font-weight="normal" fill="#333" text-anchor="middle" font-family="Liberation Sans, sans-serif" >BT_S1</text>
<ellipse cx="94.2" cy="246.6" rx="5.2" ry="4.2" fill="#F07C62"/>
<clipPath id="opcc"><polygon points="62.3,216.6 65.6,214.3 70.2,214.7 73.9,216.6 73.0,219.7 69.8,221.7 68.4,224.8 65.6,226.3 63.2,223.6 61.8,220.1"/></clipPath>
<g clip-path="url(#opcc)"><polygon points="62.3,216.6 65.6,214.3 70.2,214.7 73.9,216.6 73.0,219.7 69.8,221.7 68.4,224.8 65.6,226.3 63.2,223.6 61.8,220.1" fill="#7CAE00"/>
<polygon points="58,221.5 70,224 76,220 76,232 58,232" fill="#00BFC4"/></g>
<ellipse cx="45.1" cy="182.5" rx="2.8" ry="2.7" fill="#7CAE00" />
<circle cx="38.6" cy="243.0" r="1.00" fill="#7CAE00"/>
<ellipse cx="66.5" cy="278.7" rx="3.0" ry="1.6" fill="#7CAE00" />
<ellipse cx="67.2" cy="279.3" rx="1.9" ry="1.0" fill="#00BFC4" />
<circle cx="93.0" cy="295.8" r="1.00" fill="#7CAE00"/>
<circle cx="101.2" cy="298.9" r="1.10" fill="#7CAE00"/>
<circle cx="107.0" cy="292.7" r="1.00" fill="#00BFC4"/>
<text x="111.2" y="211.0" font-size="5.6" font-weight="normal" fill="#444" text-anchor="middle" font-family="Liberation Sans, sans-serif" stroke="#444" stroke-width="0.12">BT_S6</text>
<text x="133.6" y="207.0" font-size="5.6" font-weight="normal" fill="#333" text-anchor="middle" font-family="Liberation Sans, sans-serif" >BT_S4</text>
<text x="112.8" y="224.0" font-size="5.6" font-weight="normal" fill="#444" text-anchor="middle" font-family="Liberation Sans, sans-serif" stroke="#444" stroke-width="0.12">BT_S2</text>
<circle cx="172.0" cy="231.0" r="1.35" fill="#F8766D"/>
<text x="179.8" y="233.6" font-size="7.3" font-weight="bold" fill="#333" text-anchor="start" font-family="Liberation Sans, sans-serif" >BT_S1</text>
<circle cx="172.0" cy="238.4" r="1.35" fill="#7CAE00"/>
<text x="179.8" y="241.0" font-size="7.3" font-weight="bold" fill="#333" text-anchor="start" font-family="Liberation Sans, sans-serif" >BT_S2</text>
<circle cx="172.0" cy="245.9" r="1.35" fill="#00BFC4"/>
<text x="179.8" y="248.5" font-size="7.3" font-weight="bold" fill="#333" text-anchor="start" font-family="Liberation Sans, sans-serif" >BT_S4</text>
<circle cx="172.0" cy="253.3" r="1.35" fill="#C77CFF"/>
<text x="179.8" y="255.9" font-size="7.3" font-weight="bold" fill="#333" text-anchor="start" font-family="Liberation Sans, sans-serif" >BT_S6</text>
<text x="214.0" y="182.6" font-size="8" font-weight="bold" fill="#222" text-anchor="middle" font-family="Liberation Sans, sans-serif" >d</text>
<line x1="232.8" y1="177.5" x2="232.8" y2="310.7" stroke="#9a9a9a" stroke-width="1"/>
<line x1="232.8" y1="310.7" x2="410.0" y2="310.7" stroke="#9a9a9a" stroke-width="1"/>
<line x1="231.2" y1="181.0" x2="232.8" y2="181.0" stroke="#9a9a9a" stroke-width="0.8"/>
<text font-size="6.0" font-weight="bold" fill="#222" text-anchor="end" font-family="Liberation Sans, sans-serif" transform="translate(230.80,183.69) scale(1,1.25)">10</text>
<line x1="231.2" y1="220.6" x2="232.8" y2="220.6" stroke="#9a9a9a" stroke-width="0.8"/>
<text font-size="6.0" font-weight="bold" fill="#222" text-anchor="end" font-family="Liberation Sans, sans-serif" transform="translate(230.80,223.28) scale(1,1.25)">0</text>
<line x1="231.2" y1="260.4" x2="232.8" y2="260.4" stroke="#9a9a9a" stroke-width="0.8"/>
<text font-size="6.0" font-weight="bold" fill="#222" text-anchor="end" font-family="Liberation Sans, sans-serif" transform="translate(230.80,263.08) scale(1,1.25)">-10</text>
<line x1="231.2" y1="300.8" x2="232.8" y2="300.8" stroke="#9a9a9a" stroke-width="0.8"/>
<text font-size="6.0" font-weight="bold" fill="#222" text-anchor="end" font-family="Liberation Sans, sans-serif" transform="translate(230.80,303.49) scale(1,1.25)">-20</text>
<line x1="280.4" y1="310.7" x2="280.4" y2="312.3" stroke="#9a9a9a" stroke-width="0.8"/>
<text font-size="6.0" font-weight="bold" fill="#222" text-anchor="middle" font-family="Liberation Sans, sans-serif" transform="translate(280.40,318.88) scale(1,1.25)">-10</text>
<line x1="344.4" y1="310.7" x2="344.4" y2="312.3" stroke="#9a9a9a" stroke-width="0.8"/>
<text font-size="6.0" font-weight="bold" fill="#222" text-anchor="middle" font-family="Liberation Sans, sans-serif" transform="translate(344.40,318.88) scale(1,1.25)">0</text>
<line x1="406.8" y1="310.7" x2="406.8" y2="312.3" stroke="#9a9a9a" stroke-width="0.8"/>
<text font-size="6.0" font-weight="bold" fill="#222" text-anchor="middle" font-family="Liberation Sans, sans-serif" transform="translate(406.80,318.88) scale(1,1.25)">10</text>
<text x="320.8" y="325.5" font-size="6" font-weight="normal" fill="#444" text-anchor="middle" font-family="Liberation Sans, sans-serif" stroke="#444" stroke-width="0.15">UMAP_1</text>
<text x="0.0" y="0.0" font-size="6" font-weight="normal" fill="#555" text-anchor="middle" font-family="Liberation Sans, sans-serif" transform="translate(219.8,243.5) rotate(-90)">UMAP_2</text>
<g mask="url(#archd)">
<polygon points="326.3,188.6 334.1,184.7 342.7,183.3 353.7,184.2 364.7,187.7 375.7,192.3 388.9,195.7 396.5,200.7 401.0,206.2 399.8,210.1 393.3,213.1 389.9,217.9 388.9,221.9 394.3,224.8 392.1,227.8 386.7,226.7 383.4,222.9 378.9,217.0 373.5,214.1 370.1,209.1 369.1,203.3 365.8,199.4 358.1,197.4 349.4,195.5 338.3,194.5 329.6,194.5 326.3,193.5" fill="#00BFC4" stroke="#00BFC4" stroke-width="2.20" stroke-linejoin="round"/>
<polygon points="320,180 366,180 366,187.8 356,189.6 346,192 340,195.5 336,198 320,198" fill="#F8766D"/>
<polygon points="344,197.2 356,198.4 368,201.2 368,204 356,201 344,200" fill="#E9908A"/>
<polygon points="360,184 392,190 392,197 384,196 372,193 360,188.5" fill="#E88A84"/>
<g mask="url(#archd)" fill="#ffffff" fill-opacity="0.85"><circle cx="378.6" cy="219.2" r="0.77"/><circle cx="398.4" cy="219.1" r="0.82"/><circle cx="341.8" cy="207.6" r="0.83"/><circle cx="380.2" cy="225.8" r="0.50"/><circle cx="369.1" cy="198.4" r="0.67"/><circle cx="375.6" cy="188.6" r="0.54"/><circle cx="357.3" cy="226.5" r="0.76"/><circle cx="349.9" cy="221.5" r="0.51"/><circle cx="378.3" cy="193.3" r="0.45"/><circle cx="394.0" cy="196.8" r="0.54"/><circle cx="400.9" cy="224.6" r="0.57"/><circle cx="399.6" cy="210.6" r="0.72"/><circle cx="352.7" cy="227.5" r="0.73"/><circle cx="399.9" cy="225.5" r="0.57"/><circle cx="362.4" cy="195.0" r="0.51"/><circle cx="344.0" cy="200.7" r="0.69"/><circle cx="340.2" cy="216.5" r="0.59"/><circle cx="359.2" cy="222.4" r="0.64"/><circle cx="359.6" cy="208.2" r="0.73"/><circle cx="343.5" cy="229.0" r="0.46"/><circle cx="386.5" cy="223.5" r="0.46"/><circle cx="388.8" cy="203.4" r="0.68"/><circle cx="340.6" cy="190.0" r="0.52"/><circle cx="399.2" cy="196.3" r="0.75"/><circle cx="397.6" cy="227.6" r="0.59"/><circle cx="362.0" cy="210.0" r="0.76"/><circle cx="346.7" cy="219.4" r="0.77"/><circle cx="393.3" cy="189.5" r="0.83"/><circle cx="345.7" cy="202.3" r="0.69"/><circle cx="396.9" cy="202.3" r="0.82"/><circle cx="373.8" cy="201.1" r="0.58"/><circle cx="351.0" cy="191.3" r="0.51"/><circle cx="382.7" cy="229.9" r="0.51"/><circle cx="343.0" cy="229.4" r="0.66"/><circle cx="365.2" cy="198.0" r="0.69"/><circle cx="391.2" cy="207.1" r="0.62"/><circle cx="343.5" cy="226.5" r="0.46"/><circle cx="370.6" cy="223.2" r="0.50"/><circle cx="385.4" cy="227.9" r="0.70"/><circle cx="388.9" cy="192.5" r="0.62"/><circle cx="349.3" cy="223.5" r="0.57"/><circle cx="368.1" cy="230.0" r="0.79"/><circle cx="400.5" cy="207.0" r="0.65"/><circle cx="385.2" cy="208.1" r="0.57"/><circle cx="365.0" cy="194.2" r="0.60"/><circle cx="401.3" cy="228.3" r="0.70"/><circle cx="371.0" cy="202.2" r="0.49"/><circle cx="356.9" cy="220.8" r="0.80"/><circle cx="362.4" cy="221.0" r="0.76"/><circle cx="383.1" cy="215.9" r="0.75"/><circle cx="362.5" cy="217.6" r="0.56"/><circle cx="370.1" cy="220.3" r="0.73"/><circle cx="358.2" cy="227.7" r="0.71"/><circle cx="376.0" cy="188.5" r="0.67"/><circle cx="355.5" cy="216.2" r="0.64"/><circle cx="390.6" cy="215.2" r="0.77"/><circle cx="361.6" cy="215.1" r="0.75"/><circle cx="391.3" cy="202.7" r="0.79"/><circle cx="393.9" cy="216.9" r="0.84"/><circle cx="399.3" cy="209.8" r="0.66"/><circle cx="350.3" cy="223.1" r="0.82"/><circle cx="369.6" cy="217.0" r="0.74"/><circle cx="385.3" cy="195.2" r="0.76"/><circle cx="376.0" cy="216.0" r="0.62"/><circle cx="378.7" cy="220.5" r="0.70"/><circle cx="384.7" cy="189.2" r="0.51"/><circle cx="367.3" cy="215.3" r="0.54"/><circle cx="382.5" cy="214.5" r="0.47"/><circle cx="369.2" cy="197.5" r="0.47"/><circle cx="348.3" cy="201.3" r="0.52"/><circle cx="352.0" cy="189.5" r="0.64"/><circle cx="363.6" cy="213.7" r="0.69"/><circle cx="354.7" cy="225.9" r="0.45"/><circle cx="365.1" cy="199.7" r="0.61"/><circle cx="347.1" cy="222.9" r="0.60"/><circle cx="342.2" cy="213.8" r="0.49"/><circle cx="373.8" cy="202.3" r="0.68"/><circle cx="399.4" cy="222.4" r="0.62"/><circle cx="390.4" cy="215.0" r="0.60"/><circle cx="348.8" cy="213.0" r="0.68"/><circle cx="399.3" cy="228.7" r="0.69"/><circle cx="361.8" cy="225.5" r="0.45"/><circle cx="346.7" cy="211.8" r="0.70"/><circle cx="348.7" cy="214.4" r="0.81"/><circle cx="363.3" cy="206.1" r="0.54"/><circle cx="358.1" cy="228.8" r="0.60"/><circle cx="399.6" cy="226.4" r="0.69"/><circle cx="356.1" cy="229.2" r="0.65"/><circle cx="365.8" cy="201.4" r="0.84"/><circle cx="370.5" cy="200.0" r="0.64"/><circle cx="347.6" cy="214.1" r="0.63"/><circle cx="358.2" cy="220.8" r="0.78"/><circle cx="340.8" cy="210.4" r="0.56"/><circle cx="398.0" cy="220.8" r="0.55"/><circle cx="356.6" cy="194.5" r="0.85"/><circle cx="358.2" cy="213.5" r="0.64"/><circle cx="380.0" cy="213.4" r="0.75"/><circle cx="347.3" cy="219.9" r="0.57"/><circle cx="373.1" cy="202.1" r="0.57"/><circle cx="372.9" cy="207.5" r="0.59"/><circle cx="386.2" cy="212.8" r="0.46"/><circle cx="355.7" cy="207.1" r="0.82"/><circle cx="395.1" cy="210.9" r="0.46"/><circle cx="388.3" cy="206.0" r="0.68"/><circle cx="383.9" cy="214.6" r="0.64"/><circle cx="396.5" cy="204.2" r="0.61"/><circle cx="392.8" cy="196.3" r="0.57"/><circle cx="391.5" cy="190.8" r="0.78"/><circle cx="383.1" cy="206.2" r="0.56"/><circle cx="388.4" cy="226.2" r="0.51"/><circle cx="369.7" cy="211.1" r="0.65"/><circle cx="360.5" cy="194.4" r="0.68"/><circle cx="390.3" cy="190.9" r="0.54"/><circle cx="390.8" cy="221.3" r="0.72"/><circle cx="341.6" cy="218.3" r="0.84"/><circle cx="401.9" cy="217.5" r="0.47"/><circle cx="392.2" cy="197.2" r="0.71"/><circle cx="399.0" cy="217.9" r="0.50"/><circle cx="358.1" cy="226.6" r="0.51"/><circle cx="377.9" cy="205.4" r="0.51"/><circle cx="378.6" cy="189.8" r="0.49"/><circle cx="363.5" cy="191.0" r="0.47"/><circle cx="375.7" cy="219.2" r="0.80"/><circle cx="348.3" cy="206.1" r="0.58"/><circle cx="377.2" cy="208.6" r="0.83"/><circle cx="363.2" cy="190.3" r="0.73"/><circle cx="349.4" cy="214.5" r="0.65"/><circle cx="396.4" cy="211.3" r="0.70"/><circle cx="356.3" cy="211.2" r="0.55"/><circle cx="386.5" cy="209.7" r="0.50"/><circle cx="354.5" cy="203.6" r="0.74"/><circle cx="351.1" cy="218.0" r="0.71"/><circle cx="345.3" cy="216.1" r="0.49"/><circle cx="347.7" cy="212.9" r="0.55"/><circle cx="394.4" cy="208.2" r="0.58"/><circle cx="389.4" cy="189.2" r="0.74"/><circle cx="343.3" cy="194.3" r="0.83"/><circle cx="382.2" cy="197.4" r="0.50"/><circle cx="400.3" cy="215.9" r="0.78"/><circle cx="348.7" cy="214.2" r="0.59"/><circle cx="354.6" cy="202.0" r="0.70"/><circle cx="361.6" cy="204.2" r="0.50"/><circle cx="391.5" cy="215.2" r="0.77"/><circle cx="366.9" cy="223.8" r="0.66"/><circle cx="376.7" cy="212.1" r="0.75"/><circle cx="364.5" cy="192.1" r="0.46"/><circle cx="352.5" cy="189.7" r="0.81"/><circle cx="369.8" cy="219.9" r="0.45"/><circle cx="369.2" cy="225.4" r="0.70"/><circle cx="366.6" cy="207.6" r="0.49"/><circle cx="349.6" cy="194.7" r="0.60"/><circle cx="363.9" cy="225.0" r="0.51"/><circle cx="355.8" cy="199.7" r="0.51"/><circle cx="357.8" cy="197.9" r="0.64"/><circle cx="342.0" cy="226.8" r="0.60"/><circle cx="398.2" cy="216.9" r="0.72"/><circle cx="369.2" cy="227.7" r="0.50"/><circle cx="381.5" cy="200.2" r="0.72"/><circle cx="385.2" cy="194.9" r="0.53"/><circle cx="341.5" cy="197.7" r="0.48"/><circle cx="364.9" cy="228.9" r="0.60"/><circle cx="359.3" cy="207.7" r="0.56"/><circle cx="385.4" cy="218.2" r="0.52"/><circle cx="354.9" cy="216.2" r="0.83"/><circle cx="380.0" cy="206.1" r="0.84"/><circle cx="340.4" cy="190.6" r="0.76"/><circle cx="365.4" cy="189.9" r="0.67"/><circle cx="401.4" cy="209.8" r="0.59"/><circle cx="345.8" cy="191.0" r="0.81"/><circle cx="370.5" cy="227.3" r="0.47"/><circle cx="355.1" cy="190.1" r="0.61"/><circle cx="343.7" cy="198.7" r="0.61"/><circle cx="359.0" cy="190.2" r="0.47"/><circle cx="400.2" cy="195.5" r="0.65"/><circle cx="364.9" cy="210.3" r="0.48"/><circle cx="359.5" cy="192.5" r="0.67"/><circle cx="397.1" cy="213.1" r="0.79"/><circle cx="373.5" cy="208.4" r="0.68"/><circle cx="363.4" cy="214.3" r="0.74"/><circle cx="396.6" cy="200.9" r="0.63"/><circle cx="391.2" cy="197.4" r="0.50"/><circle cx="359.3" cy="191.7" r="0.76"/><circle cx="390.8" cy="201.1" r="0.50"/><circle cx="345.1" cy="198.3" r="0.48"/><circle cx="366.6" cy="212.2" r="0.55"/><circle cx="343.8" cy="217.4" r="0.47"/><circle cx="352.4" cy="200.0" r="0.60"/><circle cx="346.1" cy="205.7" r="0.58"/><circle cx="386.6" cy="211.4" r="0.81"/><circle cx="380.6" cy="219.9" r="0.68"/></g>
</g>
<g mask="url(#microd)">
<polygon points="323.0,239.4 324.6,237.2 328.4,236.6 332.2,237.4 332.7,239.8 330.9,241.5 330.9,243.4 336.4,243.7 344.3,243.3 352.1,245.9 357.5,250.0 359.9,255.6 357.5,260.5 352.1,261.9 347.3,259.1 341.1,255.6 334.9,255.0 326.9,254.2 320.7,255.0 316.0,254.2 311.2,255.6 309.6,259.8 309.2,262.7 307.0,263.1 307.6,261.3 310.0,254.2 312.9,248.7 317.5,246.5 323.8,245.9 327.8,243.9 328.1,241.7 324.6,241.4" fill="#00BFC4" stroke="#00BFC4" stroke-width="2.20" stroke-linejoin="round"/>
<polygon points="327.5,244 337,243.5 338,246 336,251.5 328.5,251.5" fill="#E6CBC8"/>
<polygon points="333.5,242.6 349,242.6 349,245.4 338,244.8 333.5,245.4" fill="#EE8F88"/>
<g mask="url(#microd)" fill="#00BFC4" fill-opacity="0.9"><circle cx="333.3" cy="250.5" r="0.88"/><circle cx="330.1" cy="250.1" r="0.78"/><circle cx="335.3" cy="244.9" r="0.51"/><circle cx="331.4" cy="250.0" r="0.60"/><circle cx="333.0" cy="246.5" r="0.84"/><circle cx="339.2" cy="247.2" r="0.90"/><circle cx="326.9" cy="250.5" r="0.85"/><circle cx="328.1" cy="249.6" r="0.72"/></g>
<g mask="url(#microd)" fill="#ffffff" fill-opacity="0.85"><circle cx="349.0" cy="257.4" r="0.71"/><circle cx="315.3" cy="253.1" r="0.55"/><circle cx="333.2" cy="247.6" r="0.47"/><circle cx="329.8" cy="248.7" r="0.56"/><circle cx="313.0" cy="247.0" r="0.65"/><circle cx="328.8" cy="252.2" r="0.66"/><circle cx="326.4" cy="246.7" r="0.67"/><circle cx="335.6" cy="253.9" r="0.62"/><circle cx="350.8" cy="250.4" r="0.67"/><circle cx="326.7" cy="252.9" r="0.63"/><circle cx="324.6" cy="247.0" r="0.57"/><circle cx="340.7" cy="253.1" r="0.56"/><circle cx="337.7" cy="248.2" r="0.46"/><circle cx="324.9" cy="255.8" r="0.47"/><circle cx="316.6" cy="247.2" r="0.41"/><circle cx="323.0" cy="252.9" r="0.69"/><circle cx="325.2" cy="250.4" r="0.50"/><circle cx="324.2" cy="255.3" r="0.59"/><circle cx="322.3" cy="247.3" r="0.67"/><circle cx="340.3" cy="255.9" r="0.48"/><circle cx="333.8" cy="257.0" r="0.61"/><circle cx="349.8" cy="248.0" r="0.74"/></g>
</g>
<polygon points="274.8,219.8 279.2,217.4 285.5,217.8 290.6,219.8 289.3,223.0 284.9,225.0 283.0,228.2 279.2,229.8 276.1,227.0 274.2,223.4" fill="#F8766D"/>
<ellipse cx="288.4" cy="222.8" rx="1.9" ry="1.8" fill="#00BFC4" />
<ellipse cx="251.8" cy="185.3" rx="2.8" ry="2.4" fill="#F8766D" />
<circle cx="241.4" cy="247.7" r="0.90" fill="#F8766D"/>
<ellipse cx="279.9" cy="283.6" rx="3.5" ry="1.4" fill="#F8766D" />
<circle cx="316.7" cy="301.0" r="1.25" fill="#00BFC4"/>
<circle cx="327.8" cy="304.2" r="1.10" fill="#00BFC4"/>
<circle cx="336.4" cy="297.7" r="1.25" fill="#00BFC4"/>
<text x="333.2" y="197.0" font-size="4.8" font-weight="normal" fill="#444" text-anchor="middle" font-family="Liberation Sans, sans-serif" >Healthy</text>
<text x="357.2" y="218.6" font-size="4.8" font-weight="normal" fill="#444" text-anchor="middle" font-family="Liberation Sans, sans-serif" >Tumor</text>
<rect x="411.5" y="37.2" width="90.5" height="19.6" fill="#FEF4E8"/>
<rect x="411.5" y="56.8" width="90.5" height="19.9" fill="#FDE6CD"/>
<rect x="411.5" y="76.7" width="90.5" height="29.6" fill="#FEF4E8"/>
<rect x="411.5" y="106.3" width="90.5" height="29.1" fill="#FDE6CD"/>
<rect x="411.5" y="135.4" width="90.5" height="31.3" fill="#FEF4E8"/>
<rect x="411.5" y="166.7" width="90.5" height="42.8" fill="#FDE6CD"/>
<rect x="411.5" y="209.5" width="90.5" height="19.4" fill="#FEF4E8"/>
<rect x="411.5" y="228.9" width="90.5" height="19.2" fill="#FDE6CD"/>
<rect x="411.5" y="248.1" width="90.5" height="19.6" fill="#FEF4E8"/>
<rect x="502.0" y="37.2" width="40.8" height="19.6" fill="#FEF4E8"/>
<rect x="502.0" y="56.8" width="40.8" height="49.5" fill="#FDE6CD"/>
<rect x="502.0" y="106.3" width="40.8" height="60.4" fill="#FDE6CD"/>
<rect x="502.0" y="166.7" width="40.8" height="101.0" fill="#FDE6CD"/>
<line x1="411.5" y1="37.2" x2="542.8" y2="37.2" stroke="#F8D67E" stroke-width="1"/>
<line x1="411.5" y1="56.8" x2="542.8" y2="56.8" stroke="#F8D67E" stroke-width="1"/>
<line x1="411.5" y1="76.7" x2="502.0" y2="76.7" stroke="#F8D67E" stroke-width="1"/>
<line x1="411.5" y1="106.3" x2="542.8" y2="106.3" stroke="#F8D67E" stroke-width="1"/>
<line x1="411.5" y1="135.4" x2="502.0" y2="135.4" stroke="#F8D67E" stroke-width="1"/>
<line x1="411.5" y1="166.7" x2="542.8" y2="166.7" stroke="#F8D67E" stroke-width="1"/>
<line x1="411.5" y1="209.5" x2="502.0" y2="209.5" stroke="#F8D67E" stroke-width="1"/>
<line x1="411.5" y1="228.9" x2="502.0" y2="228.9" stroke="#F8D67E" stroke-width="1"/>
<line x1="411.5" y1="248.1" x2="502.0" y2="248.1" stroke="#F8D67E" stroke-width="1"/>
<line x1="411.5" y1="267.7" x2="542.8" y2="267.7" stroke="#F8D67E" stroke-width="1"/>
<line x1="411.5" y1="37.2" x2="411.5" y2="267.7" stroke="#F8D67E" stroke-width="1"/>
<line x1="542.8" y1="37.2" x2="542.8" y2="267.7" stroke="#F8D67E" stroke-width="1"/>
<line x1="457.3" y1="37.2" x2="457.3" y2="267.7" stroke="#F8D67E" stroke-width="1"/>
<line x1="502.0" y1="56.8" x2="502.0" y2="267.7" stroke="#F8D67E" stroke-width="1"/>
<text x="0.0" y="0.0" font-size="7.0" font-weight="bold" fill="#1a1a1a" text-anchor="middle" font-family="Liberation Sans, sans-serif" stroke="#1a1a1a" stroke-width="0.16" transform="translate(434.4,53.6) scale(1,1.17)">Cluster Id</text>
<text x="0.0" y="0.0" font-size="7.0" font-weight="bold" fill="#1a1a1a" text-anchor="middle" font-family="Liberation Sans, sans-serif" stroke="#1a1a1a" stroke-width="0.16" transform="translate(500.0,53.6) scale(1,1.17)">Cell type</text>
<text x="0.0" y="0.0" font-size="6.5" font-weight="normal" fill="#383838" text-anchor="middle" font-family="Liberation Sans, sans-serif" stroke="#383838" stroke-width="0.16" transform="translate(434.4,71.4) scale(1,1.17)">0</text>
<text x="0.0" y="0.0" font-size="6.5" font-weight="normal" fill="#383838" text-anchor="middle" font-family="Liberation Sans, sans-serif" stroke="#383838" stroke-width="0.16" transform="translate(479.6,71.4) scale(1,1.17)">Microglial</text>
<text x="0.0" y="0.0" font-size="6.5" font-weight="normal" fill="#383838" text-anchor="middle" font-family="Liberation Sans, sans-serif" stroke="#383838" stroke-width="0.16" transform="translate(434.4,90.4) scale(1,1.17)">1,4,5,8, 9</text>
<text x="0.0" y="0.0" font-size="6.5" font-weight="normal" fill="#383838" text-anchor="middle" font-family="Liberation Sans, sans-serif" stroke="#383838" stroke-width="0.16" transform="translate(479.6,90.4) scale(1,1.17)">Schwann</text>
<text x="0.0" y="0.0" font-size="6.5" font-weight="normal" fill="#383838" text-anchor="middle" font-family="Liberation Sans, sans-serif" stroke="#383838" stroke-width="0.16" transform="translate(434.4,120.4) scale(1,1.17)">3,6,7,10, 14</text>
<text x="0.0" y="0.0" font-size="6.5" font-weight="normal" fill="#383838" text-anchor="middle" font-family="Liberation Sans, sans-serif" stroke="#383838" stroke-width="0.16" transform="translate(479.6,120.4) scale(1,1.17)">Microglial</text>
<text x="0.0" y="0.0" font-size="6.5" font-weight="normal" fill="#383838" text-anchor="middle" font-family="Liberation Sans, sans-serif" stroke="#383838" stroke-width="0.16" transform="translate(434.4,150.1) scale(1,1.17)">13</text>
<text x="0.0" y="0.0" font-size="6.5" font-weight="normal" fill="#383838" text-anchor="middle" font-family="Liberation Sans, sans-serif" stroke="#383838" stroke-width="0.16" transform="translate(479.6,150.1) scale(1,1.17)">Macrophage</text>
<text x="0.0" y="0.0" font-size="6.5" font-weight="normal" fill="#383838" text-anchor="middle" font-family="Liberation Sans, sans-serif" stroke="#383838" stroke-width="0.16" transform="translate(434.4,181.6) scale(1,1.17)">11</text>
<text x="0.0" y="0.0" font-size="6.5" font-weight="normal" fill="#383838" text-anchor="middle" font-family="Liberation Sans, sans-serif" stroke="#383838" stroke-width="0.16" transform="translate(479.6,181.6) scale(1,1.17)">Oligodendro</text>
<text x="0.0" y="0.0" font-size="6.5" font-weight="normal" fill="#383838" text-anchor="middle" font-family="Liberation Sans, sans-serif" stroke="#383838" stroke-width="0.16" transform="translate(434.4,223.5) scale(1,1.17)">12</text>
<text x="0.0" y="0.0" font-size="6.5" font-weight="normal" fill="#383838" text-anchor="middle" font-family="Liberation Sans, sans-serif" stroke="#383838" stroke-width="0.16" transform="translate(479.6,223.5) scale(1,1.17)">Astrocyte</text>
<text x="0.0" y="0.0" font-size="6.5" font-weight="normal" fill="#383838" text-anchor="middle" font-family="Liberation Sans, sans-serif" stroke="#383838" stroke-width="0.16" transform="translate(434.4,243.3) scale(1,1.17)">15</text>
<text x="0.0" y="0.0" font-size="6.5" font-weight="normal" fill="#383838" text-anchor="middle" font-family="Liberation Sans, sans-serif" stroke="#383838" stroke-width="0.16" transform="translate(479.6,243.3) scale(1,1.17)">Vascular</text>
<text x="0.0" y="0.0" font-size="6.5" font-weight="normal" fill="#383838" text-anchor="middle" font-family="Liberation Sans, sans-serif" stroke="#383838" stroke-width="0.16" transform="translate(434.4,262.5) scale(1,1.17)">2</text>
<text x="0.0" y="0.0" font-size="6.5" font-weight="normal" fill="#383838" text-anchor="middle" font-family="Liberation Sans, sans-serif" stroke="#383838" stroke-width="0.16" transform="translate(479.6,262.5) scale(1,1.17)">OPC</text>
<text x="0.0" y="0.0" font-size="6.5" font-weight="normal" fill="#383838" text-anchor="middle" font-family="Liberation Sans, sans-serif" stroke="#383838" stroke-width="0.16" transform="translate(479.6,200.6) scale(1,1.17)">cytes</text>
<text x="0.0" y="0.0" font-size="6.5" font-weight="normal" fill="#383838" text-anchor="middle" font-family="Liberation Sans, sans-serif" stroke="#383838" stroke-width="0.16" transform="translate(522.4,71.4) scale(1,1.17)">Immune</text>
<text x="0.0" y="0.0" font-size="6.5" font-weight="normal" fill="#383838" text-anchor="middle" font-family="Liberation Sans, sans-serif" stroke="#383838" stroke-width="0.16" transform="translate(522.4,90.4) scale(1,1.17)">cells</text>
<text x="0.0" y="0.0" font-size="6.5" font-weight="normal" fill="#383838" text-anchor="middle" font-family="Liberation Sans, sans-serif" stroke="#383838" stroke-width="0.16" transform="translate(522.4,144.9) scale(1,1.17)">Neoplastic</text>
<text x="0.0" y="0.0" font-size="6.5" font-weight="normal" fill="#383838" text-anchor="middle" font-family="Liberation Sans, sans-serif" stroke="#383838" stroke-width="0.16" transform="translate(522.4,163.4) scale(1,1.17)">cells</text>
<text x="0.0" y="0.0" font-size="6.5" font-weight="normal" fill="#383838" text-anchor="middle" font-family="Liberation Sans, sans-serif" stroke="#383838" stroke-width="0.16" transform="translate(522.4,205.4) scale(1,1.17)">Others</text>
</svg>
</body></html>
